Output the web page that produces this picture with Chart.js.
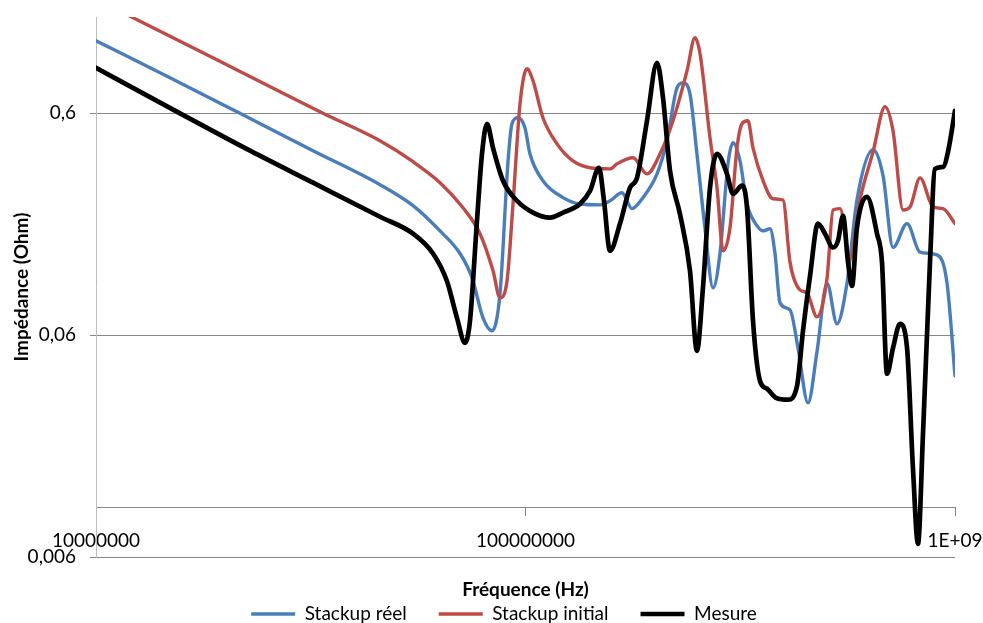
<!DOCTYPE html>
<html>
<head>
<meta charset="utf-8">
<title>Impédance</title>
<script src="https://cdn.jsdelivr.net/npm/chart.js@4"></script>
<style>
  html, body { margin: 0; padding: 0; background: #fff; }
  #wrap { width: 983px; height: 623px; position: relative; }
</style>
</head>
<body>
<div id="wrap"><canvas id="impedanceChart"></canvas></div>
<script>
// Stackup réel (bleu)
const freqReel = [1e7, 1.487e7, 2.152e7, 3.201e7, 4.584e7, 5.472e7, 6.324e7, 7.038e7, 7.506e7, 7.963e7,
  8.356e7, 8.721e7, 9.107e7, 9.302e7, 9.605e7, 9.97e7, 1.024e8, 1.098e8, 1.223e8, 1.339e8,
  1.491e8, 1.573e8, 1.677e8, 1.770e8, 1.877e8, 2.024e8, 2.135e8, 2.253e8, 2.326e8, 2.415e8,
  2.507e8, 2.617e8, 2.733e8, 2.837e8, 2.961e8, 3.041e8, 3.158e8, 3.279e8, 3.459e8, 3.573e8,
  3.710e8, 3.810e8, 3.914e8, 4.129e8, 4.310e8, 4.547e8, 4.772e8, 5.035e8, 5.312e8, 5.605e8,
  5.912e8, 6.444e8, 6.799e8, 7.173e8, 7.732e8, 8.290e8, 9.082e8, 9.581e8, 1e9];
const zReel = [1.274, 0.868, 0.603, 0.407, 0.286, 0.230, 0.177, 0.140, 0.109, 0.0718,
  0.0628, 0.0921, 0.366, 0.538, 0.573, 0.516, 0.394, 0.298, 0.250, 0.234,
  0.232, 0.242, 0.263, 0.223, 0.250, 0.320, 0.451, 0.782, 0.823, 0.734,
  0.394, 0.183, 0.0980, 0.140, 0.355, 0.442, 0.366, 0.234, 0.187, 0.177,
  0.181, 0.140, 0.0839, 0.0780, 0.0526, 0.0297, 0.0505, 0.103, 0.0675, 0.103,
  0.244, 0.411, 0.314, 0.149, 0.191, 0.142, 0.138, 0.103, 0.0393];

// Stackup initial (rouge)
const freqInitial = [1e7, 1.746e7, 3.377e7, 4.584e7, 5.472e7, 6.324e7, 7.153e7, 7.836e7,
  8.402e7, 8.721e7, 9.055e7, 9.352e7, 9.71e7, 1.008e8, 1.041e8, 1.098e8, 1.184e8, 1.290e8,
  1.413e8, 1.573e8, 1.633e8, 1.780e8, 1.918e8, 2.057e8, 2.205e8, 2.377e8, 2.481e8, 2.549e8,
  2.689e8, 2.792e8, 2.884e8, 2.993e8, 3.108e8, 3.192e8, 3.296e8, 3.386e8, 3.573e8, 3.770e8,
  3.977e8, 4.129e8, 4.356e8, 4.523e8, 4.772e8, 5.035e8, 5.200e8, 5.399e8, 5.694e8, 6.008e8,
  6.444e8, 6.871e8, 7.173e8, 7.568e8, 7.858e8, 8.290e8, 8.889e8, 9.378e8, 1e9];
const zInitial = [1.96, 1.142, 0.600, 0.451, 0.363, 0.292, 0.225, 0.172,
  0.117, 0.0884, 0.105, 0.234, 0.662, 0.952, 0.841, 0.573, 0.437, 0.366,
  0.341, 0.337, 0.355, 0.378, 0.320, 0.394, 0.555, 0.932, 1.314, 1.113,
  0.465, 0.277, 0.144, 0.183, 0.419, 0.538, 0.555, 0.419, 0.298, 0.247,
  0.244, 0.128, 0.0960, 0.0931, 0.0725, 0.108, 0.220, 0.223, 0.132, 0.244,
  0.402, 0.642, 0.500, 0.220, 0.227, 0.307, 0.227, 0.223, 0.191];

// Mesure (noir)
const freqMesure = [1e7, 1.561e7, 2.284e7, 3.201e7, 4.584e7, 5.472e7, 6.09e7, 6.564e7, 6.925e7, 7.229e7,
  7.426e7, 7.710e7, 7.920e7, 8.135e7, 8.402e7, 8.864e7, 9.555e7, 1.041e8, 1.140e8, 1.223e8,
  1.339e8, 1.413e8, 1.483e8, 1.523e8, 1.573e8, 1.660e8, 1.751e8, 1.818e8, 1.918e8, 2.024e8,
  2.090e8, 2.170e8, 2.289e8, 2.415e8, 2.507e8, 2.589e8, 2.689e8, 2.792e8, 2.945e8, 3.041e8,
  3.192e8, 3.279e8, 3.386e8, 3.516e8, 3.650e8, 3.831e8, 4.085e8, 4.287e8, 4.427e8, 4.597e8,
  4.797e8, 4.981e8, 5.200e8, 5.341e8, 5.486e8, 5.635e8, 5.757e8, 5.912e8, 6.239e8, 6.583e8,
  6.761e8, 6.945e8, 7.173e8, 7.447e8, 7.732e8, 7.983e8, 8.200e8, 8.423e8, 8.745e8, 8.982e8,
  9.378e8, 9.632e8, 1e9];
const zMesure = [0.962, 0.603, 0.407, 0.292, 0.205, 0.172, 0.140, 0.105, 0.0718, 0.0554,
  0.0696, 0.197, 0.394, 0.538, 0.419, 0.298, 0.242, 0.214, 0.203, 0.214,
  0.234, 0.268, 0.341, 0.242, 0.144, 0.191, 0.277, 0.307, 0.555, 1.014,
  0.705, 0.330, 0.211, 0.117, 0.0510, 0.0980, 0.277, 0.394, 0.320, 0.260,
  0.283, 0.225, 0.0696, 0.0373, 0.0344, 0.0313, 0.0307, 0.0354, 0.0628, 0.111,
  0.191, 0.172, 0.149, 0.160, 0.207, 0.128, 0.100, 0.183, 0.252, 0.172,
  0.128, 0.0402, 0.0526, 0.0675, 0.0526, 0.0150, 0.00688, 0.0215, 0.128, 0.337,
  0.344, 0.402, 0.616];

// Axes
const yTicks = [0.006, 0.06, 0.6];
const xTicks = [1e7, 1e8, 1e9];
const xTickLabels = ['10000000', '100000000', '1E+09'];

function toPoints(xs, ys) {
    return xs.map((x, i) => ({ x: x, y: ys[i] }));
}

document.addEventListener("DOMContentLoaded", function() {
    Chart.defaults.font.family = "Lato, 'Liberation Sans', sans-serif";
    Chart.defaults.color = '#000';

    const gridGrey = '#868686';
    const titleFont = { size: 19, weight: 'bold' };

    const ctx = document.getElementById('impedanceChart').getContext('2d');
    const impedanceChart = new Chart(ctx, {
        type: 'line',
        data: {
            datasets: [{
                label: 'Stackup réel',
                data: toPoints(freqReel, zReel),
                borderColor: '#4a7ebb',
                backgroundColor: '#4a7ebb',
                borderWidth: 3.4,
                order: 3
            }, {
                label: 'Stackup initial',
                data: toPoints(freqInitial, zInitial),
                borderColor: '#be4b48',
                backgroundColor: '#be4b48',
                borderWidth: 3.4,
                order: 2
            }, {
                label: 'Mesure',
                data: toPoints(freqMesure, zMesure),
                borderColor: '#000000',
                backgroundColor: '#000000',
                borderWidth: 4.7,
                order: 1
            }]
        },
        options: {
            responsive: true,
            maintainAspectRatio: false,
            animation: false,
            layout: {
                padding: { top: 17, right: 0, bottom: -10.5, left: 25 }
            },
            elements: {
                point: { radius: 0, hoverRadius: 0, pointStyle: 'line' },
                line: {
                    cubicInterpolationMode: 'monotone',
                    borderCapStyle: 'round',
                    borderJoinStyle: 'round'
                }
            },
            scales: {
                // axe invisible, porte seulement le titre "Fréquence (Hz)"
                x: {
                    type: 'logarithmic',
                    position: 'bottom',
                    min: 1e7,
                    max: 1e9,
                    grid: { display: false, drawTicks: false },
                    border: { display: false },
                    ticks: { display: false },
                    title: {
                        display: true,
                        text: 'Fréquence (Hz)',
                        font: titleFont,
                        padding: { top: 21.6, bottom: -28.9 }
                    }
                },
                // axe horizontal qui croise à 0,01
                xAxe: {
                    axis: 'x',
                    type: 'logarithmic',
                    position: { y: 0.01 },
                    min: 1e7,
                    max: 1e9,
                    afterBuildTicks: function(scale) {
                        scale.ticks = xTicks.map(v => ({ value: v }));
                    },
                    grid: {
                        drawOnChartArea: false,
                        tickLength: 8,
                        tickColor: gridGrey
                    },
                    border: { color: gridGrey, width: 1 },
                    ticks: {
                        autoSkip: false,
                        maxRotation: 0,
                        padding: 0,
                        font: { size: 19, lineHeight: 2.65 },
                        callback: function(value, index) {
                            return xTickLabels[index];
                        }
                    }
                },
                y: {
                    type: 'logarithmic',
                    position: 'left',
                    min: 0.006,
                    max: 1.63,
                    afterBuildTicks: function(scale) {
                        scale.ticks = yTicks.map(v => ({ value: v }));
                    },
                    afterFit: function(scale) {
                        scale.width = 71;
                    },
                    grid: {
                        color: gridGrey,
                        tickColor: gridGrey,
                        tickLength: 6
                    },
                    border: { color: '#bdbdbd', width: 1 },
                    ticks: {
                        padding: 14,
                        font: { size: 19, lineHeight: 0.2 },
                        callback: function(value) {
                            return String(value).replace('.', ',');
                        }
                    },
                    title: {
                        display: true,
                        text: 'Impédance (Ohm)',
                        font: titleFont,
                        padding: { top: -14.4, bottom: 0 }
                    }
                },
                // marge droite vide
                yDroite: {
                    axis: 'y',
                    type: 'linear',
                    position: 'right',
                    grid: { display: false, drawTicks: false },
                    border: { display: false },
                    ticks: { display: false },
                    afterFit: function(scale) {
                        scale.width = 28;
                    }
                }
            },
            plugins: {
                legend: {
                    position: 'bottom',
                    labels: {
                        usePointStyle: true,
                        pointStyleWidth: 44,
                        padding: 32,
                        font: { size: 19 },
                        color: '#000',
                        sort: (a, b) => a.datasetIndex - b.datasetIndex
                    }
                },
                tooltip: { enabled: false }
            }
        }
    });
});
</script>
</body>
</html>
